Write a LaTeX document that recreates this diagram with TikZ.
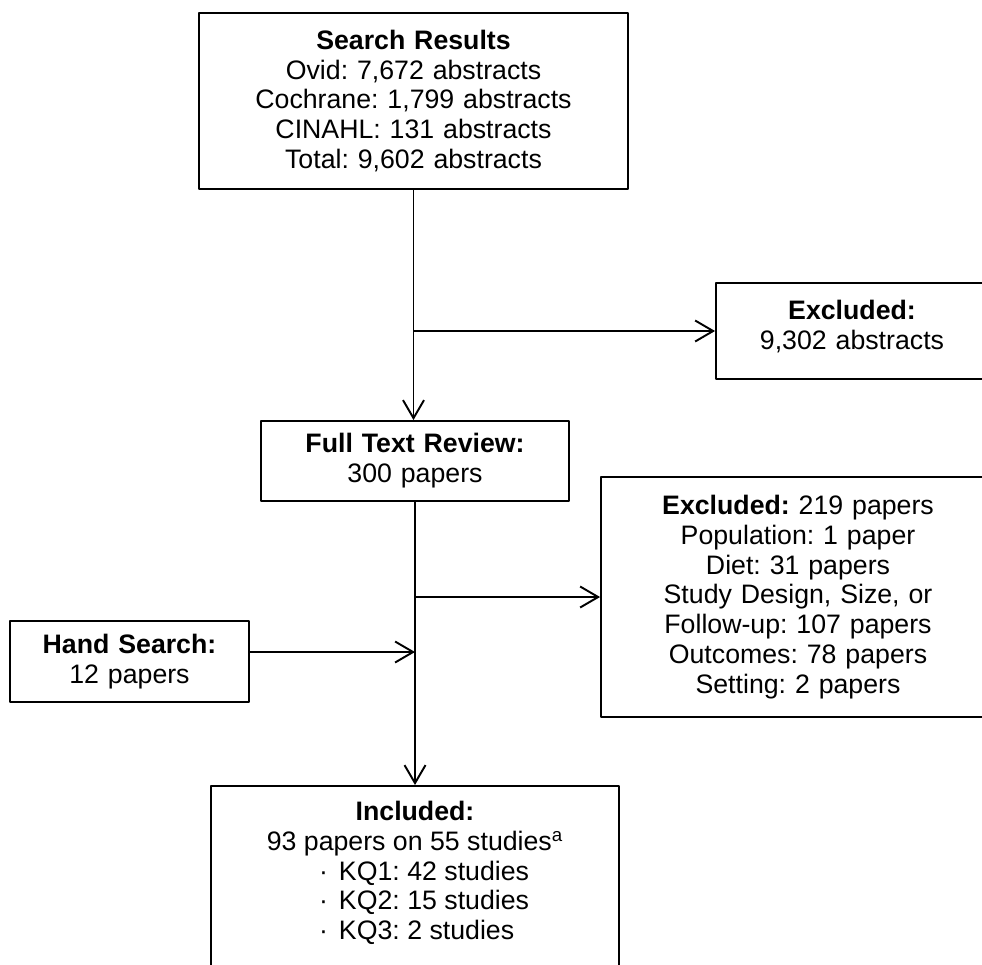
\documentclass[tikz,border=0pt]{standalone}
\usepackage{fontspec}
\setmainfont{Liberation Sans}
\frenchspacing
\usetikzlibrary{arrows.meta}
\newcommand\kqline[1]{\makebox[3.84cm][l]{\makebox[0.4cm][l]{·}#1}}
\begin{document}
\begin{tikzpicture}[x=0.02cm, y=-0.02cm, line width=1.1pt, line join=round, font=\fontsize{15.2}{17}\selectfont,
	>={Straight Barb[length=0.36cm,width=0.42cm]},
	box/.style={draw, align=center, inner sep=0pt}]
	\clip (0,0) rectangle (982,964);
	\node[box, text width=8.58cm, minimum height=3.52cm] (search) at (413.5,101) {\textbf{Search Results}\\Ovid: 7,672 abstracts\\Cochrane: 1,799 abstracts\\CINAHL: 131 abstracts\\Total: 9,602 abstracts};
	\node[box, text width=6.16cm, minimum height=1.6cm] (full) at (415,461) {\textbf{Full Text Review:}\\300 papers};
	\node[box, text width=5.44cm, minimum height=1.92cm] (excl1) at (852,331) {\textbf{Excluded:}\\9,302 abstracts\\[-0.35cm]\mbox{}};
	\node[box, text width=7.88cm, minimum height=4.8cm] (excl2) at (798,597) {\textbf{Excluded:} 219 papers\\Population: 1 paper\\Diet: 31 papers\\Study Design, Size, or\\Follow-up: 107 papers\\Outcomes: 78 papers\\Setting: 2 papers};
	\node[box, text width=4.78cm, minimum height=1.62cm] (hand) at (129.5,661.5) {\textbf{Hand Search:}\\12 papers};
	\node[box, inner ysep=0.3cm, anchor=north] (incl) at (415,785) {\parbox[c][4cm][t]{8.16cm}{\centering\textbf{Included:}\\93 papers on 55 studies\textsuperscript{a}\\\kqline{KQ1: 42 studies}\\\kqline{KQ2: 15 studies}\\\kqline{KQ3: 2 studies}}};
	\draw[->] (search.south) -- (search.south |- full.north);
	\coordinate (b1) at (search.south |- excl1.west);
	\draw[->] (b1) -- (excl1);
	\draw[->] (full.south) -- (full.south |- incl.north);
	\coordinate (b2) at (full.south |- excl2.west);
	\draw[->] (b2) -- (excl2);
	\coordinate (h) at (full.south |- 0,652);
	\draw[->] (hand.east |- h) -- (h);
\end{tikzpicture}
\end{document}
